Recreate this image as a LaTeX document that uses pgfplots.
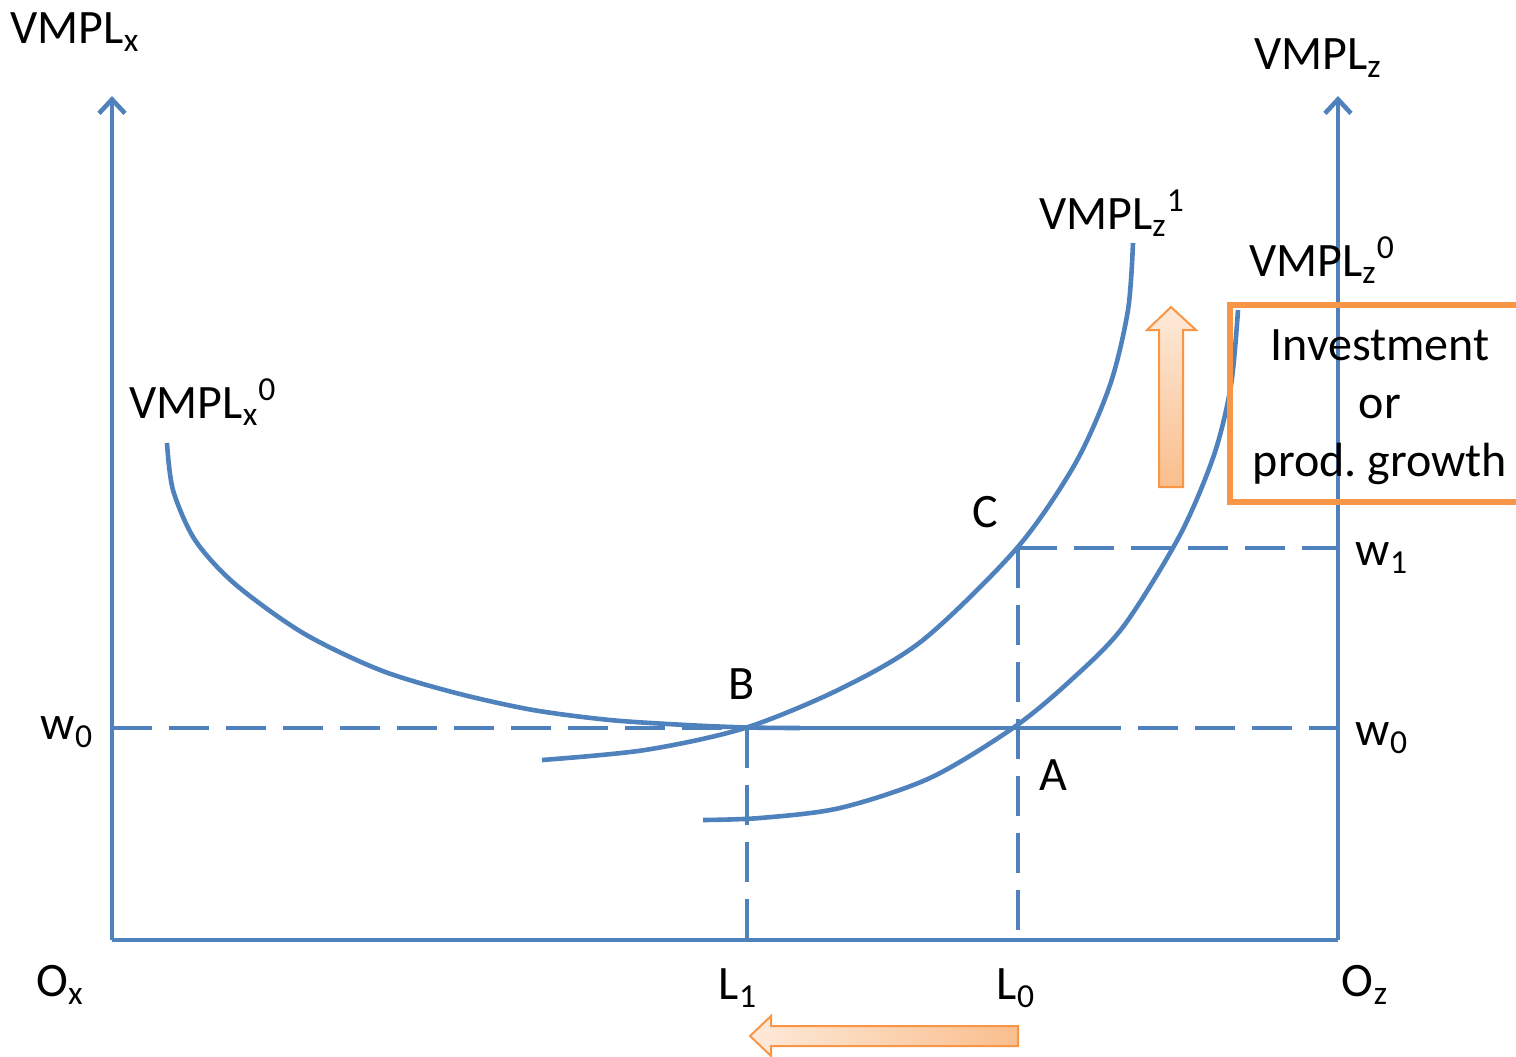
\documentclass[border=0pt]{standalone}
\usepackage{pgfplots}
\pgfplotsset{compat=1.18}
\usepackage{fontspec}
\setmainfont{Carlito}
\usetikzlibrary{arrows.meta}
\definecolor{cblue}{RGB}{79,129,189}
\definecolor{corange}{RGB}{247,150,70}
\definecolor{clight}{RGB}{253,234,218}
\definecolor{cdark}{RGB}{250,190,140}
\newcommand{\sbsp}[2]{\textsubscript{#1}\textsuperscript{#2}}
\begin{document}
\begin{tikzpicture}[font=\fontsize{24}{28}\selectfont]
\begin{axis}[
    scale only axis,width=758pt,height=528pt,
    xmin=0,xmax=1516,ymin=0,ymax=1056,y dir=reverse,
    hide axis,clip=false,
    every node/.style={font=\fontsize{24}{28}\selectfont},
    curve/.style={cblue,line width=2.3pt,smooth,tension=0.5},
    guide/.style={cblue,line width=2.3pt,dash pattern=on 20pt off 8.5pt}
]
    % axes
    \addplot[cblue,line width=2.3pt,-{Straight Barb[length=7pt,width=13pt,line width=2.3pt]}]
        coordinates{(112,940)(112,96)};
    \addplot[cblue,line width=2.3pt,-{Straight Barb[length=7pt,width=13pt,line width=2.3pt]}]
        coordinates{(1338,940)(1338,96)};
    \addplot[cblue,line width=2.3pt] coordinates{(112,940)(1338,940)};
    % dashed guides
    \addplot[guide] coordinates{(112,728)(1338,728)};
    \addplot[guide] coordinates{(1017,548)(1338,548)};
    \addplot[guide] coordinates{(747,728)(747,940)};
    \addplot[guide] coordinates{(1018,548)(1018,940)};
    % VMPLx0
    \addplot[curve] coordinates{
        (167,443)(173,490)(195,540)(235,584)(303,633)(380,670)(456,693)
        (533,710)(610,720)(686,725)(748,727.5)(800,728)};
    \addplot[cblue,line width=2.3pt] coordinates{(790,728)(1115,728)};
    % VMPLz1
    \addplot[curve] coordinates{
        (1133,243)(1128,310)(1110,385)(1075,464)(1017,548)(923,640)(840,689)
        (745,728)(645,750)(542,760)};
    % VMPLz0
    \addplot[curve] coordinates{
        (1238,310)(1231,385)(1214,455)(1180,535)(1123,627)(1070,681)(1013,728)
        (930,778)(840,808)(760,818)(703,820)};
    % orange box
    \addplot[corange,line width=3pt] coordinates{(1560,305)(1230,305)(1230,502)(1560,502)};
    % block arrows
    \addplot[draw=corange,line width=1pt,top color=clight,bottom color=cdark] coordinates{
        (1171,307)(1196,330)(1183,330)(1183,487)(1159,487)(1159,330)(1147,330)} -- cycle;
    \addplot[draw=corange,line width=1pt,left color=clight,right color=cdark] coordinates{
        (750,1036)(771,1016)(771,1026)(1018,1026)(1018,1046)(771,1046)(771,1056)} -- cycle;
    % labels
    \node at (axis cs:75,32) {VMPL\textsubscript{x}};
    \node at (axis cs:1318,58) {VMPL\textsubscript{z}};
    \node at (axis cs:1112,213) {VMPL\sbsp{z}{1}};
    \node at (axis cs:1322,260) {VMPL\sbsp{z}{0}};
    \node at (axis cs:203,402) {VMPL\sbsp{x}{0}};
    \node at (axis cs:985,512) {C};
    \node at (axis cs:742,684) {B};
    \node at (axis cs:1053,775) {A};
    \node at (axis cs:67,732) {w\textsubscript{0}};
    \node at (axis cs:1382,738) {w\textsubscript{0}};
    \node at (axis cs:1382,558) {w\textsubscript{1}};
    \node at (axis cs:60,985) {O\textsubscript{x}};
    \node at (axis cs:738,988) {L\textsubscript{1}};
    \node at (axis cs:1016,988) {L\textsubscript{0}};
    \node at (axis cs:1365,985) {O\textsubscript{z}};
    \node[align=center,font=\fontsize{24}{29}\selectfont] at (axis cs:1380,407)
        {Investment\\or\\prod.\ growth};
\end{axis}
\pgfresetboundingbox
\path[use as bounding box] (current axis.south west) rectangle (current axis.north east);
\end{tikzpicture}
\end{document}
